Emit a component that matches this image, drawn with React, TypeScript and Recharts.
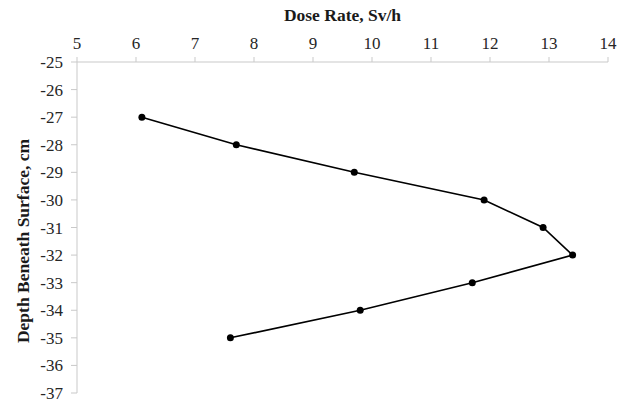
import { LineChart, Line, XAxis, YAxis, Label } from 'recharts'

const doseRate = [6.1, 7.7, 9.7, 11.9, 12.9, 13.4, 11.7, 9.8, 7.6]
const depth = [-27, -28, -29, -30, -31, -32, -33, -34, -35]
const xTicks = [5, 6, 7, 8, 9, 10, 11, 12, 13, 14]
const yTicks = [-25, -26, -27, -28, -29, -30, -31, -32, -33, -34, -35, -36, -37]

const data = doseRate.map((dose, i) => ({ dose, depth: depth[i] }))

const font = '"Liberation Serif", "Times New Roman", serif'
const axisColor = '#c9c9c9'
const tickText = { fontFamily: font, fontSize: 17, fill: '#262626' }

function TopTick(props: any) {
  const { x, y, payload } = props
  return (
    <text x={x} y={y} textAnchor="middle" style={tickText}>
      {payload.value}
    </text>
  )
}

function LeftTick(props: any) {
  const { x, y, payload } = props
  return (
    <text x={x} y={y} dy={6} textAnchor="end" style={tickText}>
      {payload.value}
    </text>
  )
}

function DepthLabel() {
  return (
    <text
      x={23}
      y={241}
      transform="rotate(-90 23 241)"
      textAnchor="middle"
      dominantBaseline="central"
      style={{ fontFamily: font, fontWeight: 'bold', fontSize: 17.5, fill: '#1a1a1a' }}
    >
      Depth Beneath Surface, cm
    </text>
  )
}

export default function App() {
  return (
    <div style={{ position: 'absolute', left: 0, top: 0, background: '#fff' }}>
      <LineChart width={621} height={403} data={data} margin={{ top: 0, right: 13, bottom: 10, left: 0 }}>
        <XAxis
          dataKey="dose"
          type="number"
          orientation="top"
          domain={[5, 14]}
          ticks={xTicks}
          height={62}
          tick={<TopTick />}
          tickSize={5}
          tickMargin={8}
          stroke={axisColor}
          axisLine={{ stroke: axisColor }}
          tickLine={{ stroke: axisColor }}
        >
          <Label
            value="Dose Rate, Sv/h"
            position="insideTop"
            offset={9}
            style={{ fontFamily: font, fontWeight: 'bold', fontSize: 17.5, fill: '#1a1a1a' }}
          />
        </XAxis>
        <YAxis
          dataKey="depth"
          type="number"
          domain={[-37, -25]}
          ticks={yTicks}
          width={77}
          interval={0}
          tick={<LeftTick />}
          tickSize={6}
          tickMargin={8}
          stroke={axisColor}
          axisLine={{ stroke: axisColor }}
          tickLine={{ stroke: axisColor }}
        >
          <Label content={<DepthLabel />} />
        </YAxis>
        <Line
          type="linear"
          dataKey="depth"
          stroke="#000"
          strokeWidth={1.6}
          dot={{ r: 3.5, fill: '#000', stroke: '#000', strokeWidth: 0 }}
          isAnimationActive={false}
        />
      </LineChart>
    </div>
  )
}
